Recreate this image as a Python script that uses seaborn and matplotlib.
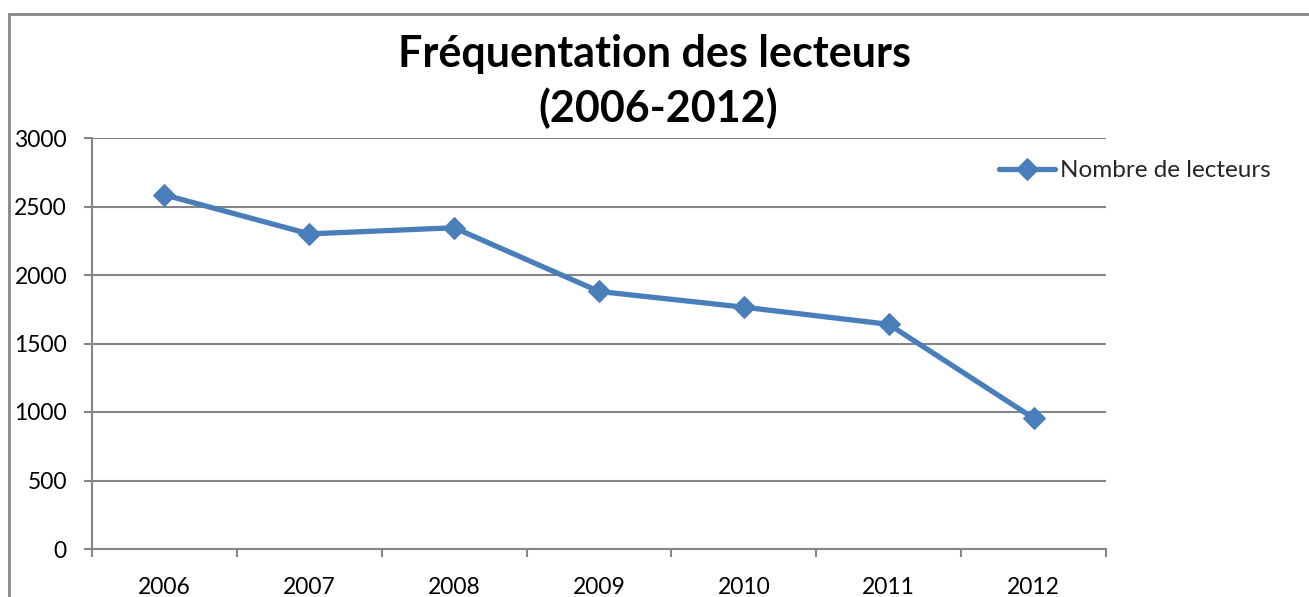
import matplotlib
matplotlib.use("Agg")
import matplotlib.pyplot as plt
import seaborn as sns
import pandas as pd
from matplotlib.patches import Rectangle

years = ["2006", "2007", "2008", "2009", "2010", "2011", "2012"]
lecteurs = [2585, 2300, 2345, 1880, 1765, 1640, 955]
series_name = "Nombre de lecteurs"
title_lines = ["Fréquentation des lecteurs", "(2006-2012)"]
yticks = [0, 500, 1000, 1500, 2000, 2500, 3000]

sns.set_theme(style="white")
plt.rcParams["font.family"] = ["Lato", "DejaVu Sans"]

df = pd.DataFrame({"Année": years, series_name: lecteurs})

W, H = 1309, 597
fig = plt.figure(figsize=(W / 100, H / 100), dpi=100)
ax = fig.add_axes([92 / W, (H - 549) / H, (1106 - 92) / W, (549 - 138) / H])

blue = "#4A7EBB"
sns.lineplot(data=df, x="Année", y=series_name, ax=ax, color=blue, linewidth=3.8,
             marker="D", markersize=11, markeredgecolor=blue, label=series_name,
             sort=False)

ax.set_xlim(-0.5, len(years) - 0.5)
ax.set_ylim(0, 3000)
ax.set_yticks(yticks)
ax.set_yticklabels([str(v) for v in yticks])
ax.set_xticks(range(len(years)))
ax.set_xticklabels(years)
ax.set_xticks([i - 0.5 for i in range(len(years) + 1)], minor=True)
ax.set_xlabel("")
ax.set_ylabel("")

grid_c = "#868686"
ax.yaxis.grid(True, color=grid_c, linewidth=1.5)
ax.xaxis.grid(False)
ax.set_axisbelow(True)
for s in ["top", "right"]:
    ax.spines[s].set_visible(False)
for s in ["left", "bottom"]:
    ax.spines[s].set_color(grid_c)
    ax.spines[s].set_linewidth(1.5)

ax.tick_params(axis="x", which="major", length=0, labelsize=16.5, pad=20, colors="black")
ax.tick_params(axis="x", which="minor", length=6, width=1.5, color=grid_c, direction="out", bottom=True)
ax.tick_params(axis="y", which="major", length=6, width=1.5, color=grid_c, direction="out",
               labelsize=16.5, pad=12, left=True, labelcolor="black")

leg = ax.legend(loc="upper left", bbox_to_anchor=(0.885, 0.97), frameon=False,
                fontsize=17.5, handlelength=2.3, handletextpad=0.2, borderaxespad=0)

fig.text(0.5, 1 - 67 / H, title_lines[0], ha="center", va="baseline", fontsize=31,
         fontweight="bold", color="black")
fig.text(0.503, 1 - 122 / H, title_lines[1], ha="center", va="baseline", fontsize=31,
         fontweight="bold", color="black")

fig.patches.append(Rectangle((9 / W, -0.5), 2, 1.5 - 14 / H, transform=fig.transFigure,
                             fill=False, edgecolor=grid_c, linewidth=2, figure=fig))

fig.savefig("out.png", dpi=100)
